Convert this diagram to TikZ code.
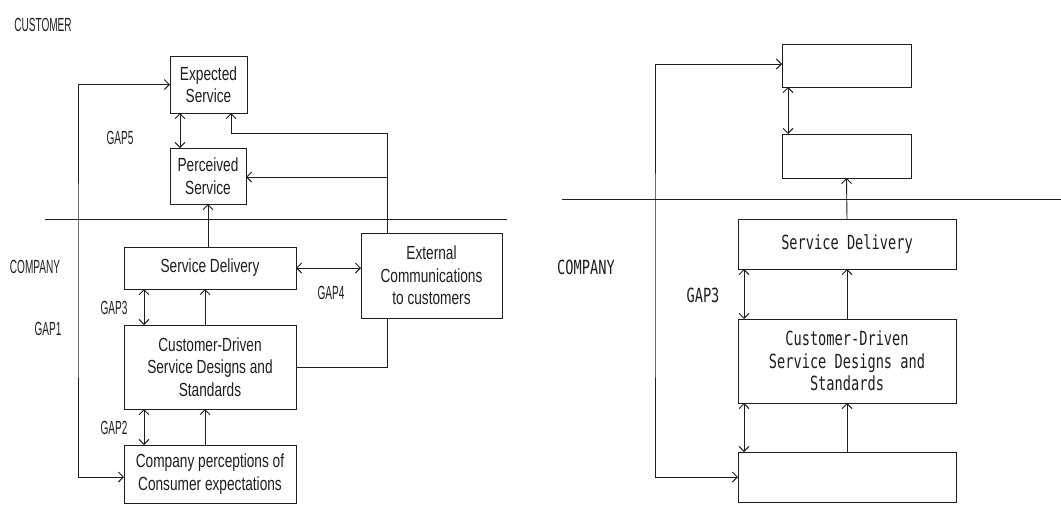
\documentclass[tikz,border=0pt]{standalone}
\usepackage{fontspec}
\usetikzlibrary{positioning, calc, arrows.meta}
\definecolor{ink}{HTML}{1E1E1E}
\newfontfamily\condF[FakeStretch=0.72]{Liberation Sans}
\newfontfamily\narrowF[FakeStretch=0.53]{Liberation Sans}
\newfontfamily\monoF[FakeStretch=0.7]{DejaVu Sans Mono}
\newcommand{\BoxF}{\condF\fontsize{19}{22.5}\selectfont}
\newcommand{\TagF}{\narrowF\fontsize{19}{22}\selectfont}
\newcommand{\MonoF}{\monoF\fontsize{19.5}{22.5}\selectfont}
\tikzset{
  lbox/.style={draw=ink, line width=0.9pt, inner sep=0pt, outer sep=0pt, align=center, font=\BoxF, text=ink},
  rbox/.style={lbox, font=\MonoF},
  tagL/.style={font=\TagF, text=ink, inner sep=0pt},
  tagR/.style={font=\MonoF, text=ink, inner sep=0pt},
  link/.style={draw=ink, line width=0.9pt},
}
\begin{document}
\begin{tikzpicture}[x=1pt, y=-1pt, >={Straight Barb[length=5pt,width=10pt]}]
\useasboundingbox (0,0) rectangle (1061,504);
% left model
\node[tagL] (cust) at (43,25) {CUSTOMER};
\node[tagL] (comp) at (35,267) {COMPANY};
\node[lbox, minimum width=77, minimum height=57] (exp) at (208.5,84.5) {Expected\\Service};
\node[lbox, minimum width=76, minimum height=56] (perc) at (208,176) {Perceived\\Service};
\node[lbox, minimum width=172, minimum height=42] (deliv) at (210,268) {Service Delivery};
\node[lbox, minimum width=141, minimum height=85] (ext) at (431.5,275.5) {External\\Communications\\to customers};
\node[lbox, minimum width=172, minimum height=84] (design) at (210,367) {Customer-Driven\\Service Designs and\\Standards};
\node[lbox, minimum width=172, minimum height=58] (percept) at (210,474) {Company perceptions of\\Consumer expectations};
\node[tagL] (gapfive) at (120,138) {GAP5};
\node[tagL] (gapthree) at (114,308) {GAP3};
\node[tagL] (gapfour) at (331,293) {GAP4};
\node[tagL] (gapone) at (48,329) {GAP1};
\node[tagL] (gaptwo) at (114,428) {GAP2};
\coordinate (leftrun) at (78,280);
\coordinate (extN) at ([xshift=-44.5pt]ext.north);
\coordinate (extS) at ([xshift=-44.5pt]ext.south);
\coordinate (jA) at (387,133);
\coordinate (jB) at (387,177);
\draw[link] (45,219) -- (507,219);
\draw[link, <->] (exp.west) -| (leftrun) |- ([yshift=-3pt]percept.west);
\draw[link, <->] ([xshift=-28.5pt]exp.south) -- ([xshift=-28pt]perc.north);
\draw[link, ->] (deliv.north -| perc.south) -- (perc.south);
\draw[link, ->] (extN) -- (jA) -| ([xshift=22.5pt]exp.south);
\draw[link, ->] (jB) -- (jB -| perc.east);
\draw[link, <->] (deliv.east) -- (deliv.east -| ext.west);
\draw[link, <->] ([xshift=-66pt]deliv.south) -- ([xshift=-66pt]design.north);
\draw[link, ->] ([xshift=-5pt]design.north) -- ([xshift=-5pt]deliv.south);
\draw[link] (extS) |- (design.east);
\draw[link, <->] ([xshift=-66pt]design.south) -- ([xshift=-66pt]percept.north);
\draw[link, ->] ([xshift=-5pt]percept.north) -- ([xshift=-5pt]design.south);
% right model
\node[tagR] (rcomp) at (586,267) {COMPANY};
\node[tagR] (rgapthree) at (703,295) {GAP3};
\node[rbox, minimum width=129, minimum height=43] (rexp) at (846.5,65.5) {};
\node[rbox, minimum width=129, minimum height=44] (rperc) at (846.5,156) {};
\node[rbox, minimum width=218, minimum height=50] (rdeliv) at (847,244) {Service Delivery};
\node[rbox, minimum width=218, minimum height=84] (rdesign) at (847,361) {Customer-Driven\\Service Designs and\\Standards};
\node[rbox, minimum width=218, minimum height=50] (rpercept) at (847,477) {};
\coordinate (rleftrun) at (655,280);
\draw[link] (562,199) -- (1061,199);
\draw[link, <->] ([yshift=1.5pt]rexp.west) -| (rleftrun) |- (rpercept.west);
\draw[link, <->] ([xshift=-58.5pt]rexp.south) -- ([xshift=-58.5pt]rperc.north);
\draw[link, ->] (rdeliv.north) -- (rperc.south);
\draw[link, <->] ([xshift=-103pt]rdeliv.south) -- ([xshift=-103pt]rdesign.north);
\draw[link, ->] (rdesign.north) -- (rdeliv.south);
\draw[link, <->] ([xshift=-103pt]rdesign.south) -- ([xshift=-103pt]rpercept.north);
\draw[link, ->] (rpercept.north) -- (rdesign.south);
\end{tikzpicture}
\end{document}
